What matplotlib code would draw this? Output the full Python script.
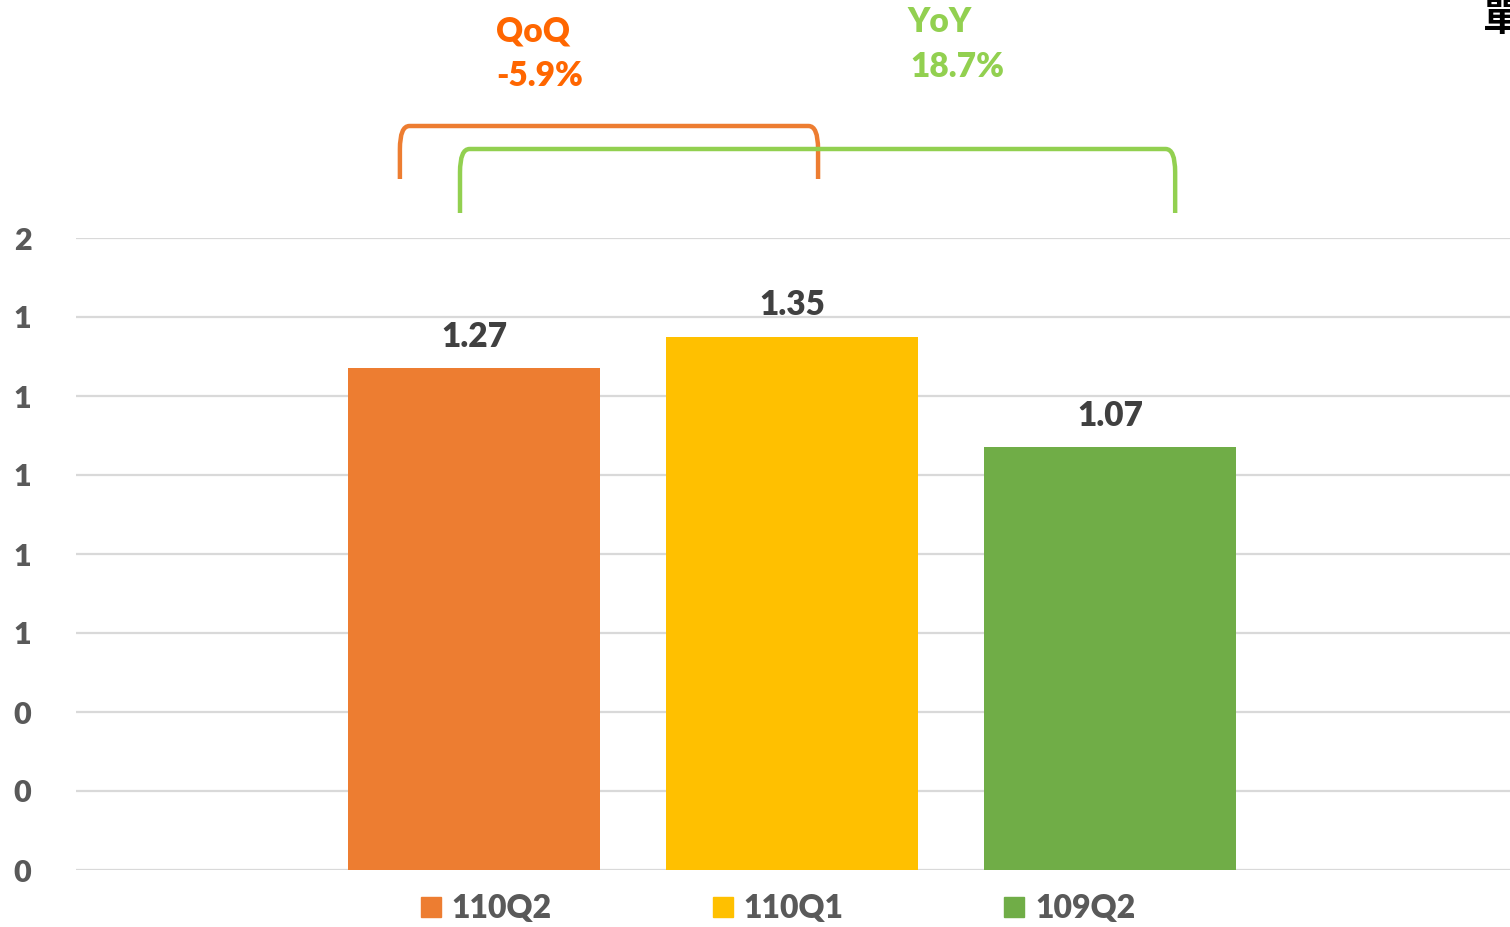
import numpy as np
import matplotlib
matplotlib.use("Agg")
import matplotlib.pyplot as plt
from matplotlib.path import Path
from matplotlib.patches import PathPatch
from matplotlib.lines import Line2D
import matplotlib.transforms as mtransforms

plt.rcParams['font.family'] = ['Lato', 'Noto Sans CJK TC', 'DejaVu Sans']
plt.rcParams['font.weight'] = 'bold'

# data
quarters = ['110Q2', '110Q1', '109Q2']
values = [1.27, 1.35, 1.07]
bar_colors = ['#ED7D31', '#FFC000', '#70AD47']
y_ticks = [0, 0.2, 0.4, 0.6, 0.8, 1.0, 1.2, 1.4, 1.6]

W, H = 1510, 927
fig = plt.figure(figsize=(W / 100, H / 100), dpi=100)
ax = fig.add_axes([76 / W, (H - 870) / H, (W - 76) / W, (870 - 238) / H])

x = np.arange(len(quarters))
ax.bar(x, values, width=0.79, color=bar_colors, zorder=3)
ax.set_xlim(-1.2516, 3.258)
ax.set_ylim(0, 1.6)
ax.set_yticks(y_ticks)
ax.set_yticklabels([f'{v:.0f}' for v in y_ticks])
ax.set_xticks([])
ax.tick_params(axis='y', length=0, pad=32, labelsize=22, labelcolor='#595959')
for lbl in ax.get_yticklabels():
    lbl.set_fontweight('heavy')
ax.yaxis.grid(True, color='#D9D9D9', linewidth=1.6, zorder=0)
for s in ax.spines.values():
    s.set_visible(False)

for xi, v in zip(x, values):
    ax.annotate(f'{v:.2f}', (xi, v), xytext=(0, 11), textcoords='offset points',
                ha='center', va='bottom', fontsize=24, fontweight='heavy', color='#404040')

# brackets: x in data units, y in figure fraction
trans = mtransforms.blended_transform_factory(ax.transData, fig.transFigure)


def bracket(x0, x1, y_top, y_bot, color):
    r = 0.03
    ry = 0.025
    verts = [(x0, y_bot), (x0, y_top - ry), (x0, y_top), (x0 + r, y_top),
             (x1 - r, y_top), (x1, y_top), (x1, y_top - ry), (x1, y_bot)]
    codes = [Path.MOVETO, Path.LINETO, Path.CURVE3, Path.CURVE3,
             Path.LINETO, Path.CURVE3, Path.CURVE3, Path.LINETO]
    fig.add_artist(PathPatch(Path(verts, codes), transform=trans, fill=False,
                             edgecolor=color, linewidth=3.2, capstyle='butt'))


bracket(x[0] - 0.233, x[1] + 0.082, 1 - 126 / H, 1 - 179 / H, '#ED7D31')
bracket(x[0] - 0.044, x[2] + 0.205, 1 - 149 / H, 1 - 213 / H, '#92D050')

fig.text(533 / W, 1 - 32 / H, 'QoQ', ha='center', va='center', fontsize=24,
         fontweight='heavy', color='#FF6600')
fig.text(540 / W, 1 - 76 / H, '-5.9%', ha='center', va='center', fontsize=24,
         fontweight='heavy', color='#FF6600')
fig.text(940 / W, 1 - 22 / H, 'YoY', ha='center', va='center', fontsize=24,
         fontweight='heavy', color='#92D050')
fig.text(957 / W, 1 - 67 / H, '18.7%', ha='center', va='center', fontsize=24,
         fontweight='heavy', color='#92D050')

fig.text(1483 / W, 1 - 20 / H, '單位：元', ha='left', va='center', fontsize=28,
         family=['Noto Sans CJK TC'], color='black')

handles = [Line2D([], [], marker='s', linestyle='none', markersize=15,
                  markerfacecolor=c, markeredgecolor=c) for c in bar_colors]
fig.legend(handles, quarters, loc='center', bbox_to_anchor=(775 / W, 1 - 909 / H),
           ncol=3, frameon=False, labelcolor='#595959',
           handletextpad=0.15, columnspacing=4.85, handlelength=1.0,
           prop={'weight': 'heavy', 'size': 23})

fig.savefig('out.png', dpi=100)
